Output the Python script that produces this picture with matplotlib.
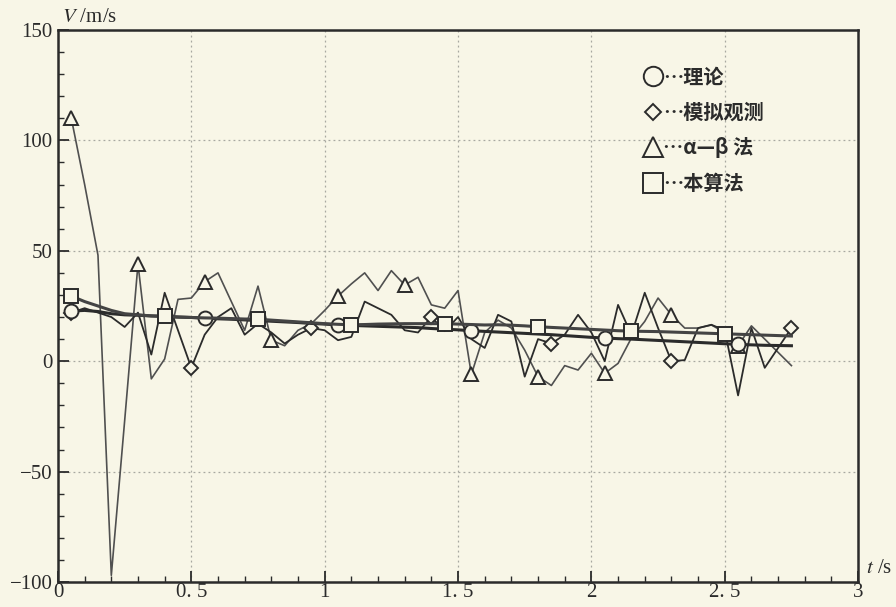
import matplotlib
matplotlib.use("Agg")
import matplotlib.pyplot as plt
from matplotlib.lines import Line2D
from matplotlib.ticker import MultipleLocator

plt.rcParams["font.family"] = ["Liberation Serif", "DejaVu Serif"]
plt.rcParams["mathtext.fontset"] = "stix"

# sample times (s)
t = [0.05, 0.10, 0.15, 0.20, 0.25, 0.30, 0.35, 0.40, 0.45, 0.50,
     0.55, 0.60, 0.65, 0.70, 0.75, 0.80, 0.85, 0.90, 0.95, 1.00,
     1.05, 1.10, 1.15, 1.20, 1.25, 1.30, 1.35, 1.40, 1.45, 1.50,
     1.55, 1.60, 1.65, 1.70, 1.75, 1.80, 1.85, 1.90, 1.95, 2.00,
     2.05, 2.10, 2.15, 2.20, 2.25, 2.30, 2.35, 2.40, 2.45, 2.50,
     2.55, 2.60, 2.65, 2.70, 2.75]

# 理论
theory = [22.7, 23.0, 22.5, 21.5, 21.0, 20.8, 20.5, 20.3, 20.0, 19.8,
          19.5, 19.2, 19.0, 18.7, 18.4, 18.1, 17.8, 17.5, 17.1, 16.8,
          16.4, 16.2, 16.0, 15.8, 15.6, 15.4, 15.2, 14.8, 14.5, 14.2,
          13.8, 13.5, 13.2, 12.9, 12.6, 12.3, 12.0, 11.6, 11.2, 10.8,
          10.5, 10.2, 10.0, 9.7, 9.4, 9.1, 8.8, 8.5, 8.2, 7.9,
          7.6, 7.4, 7.2, 7.1, 7.0]

# 模拟观测
observed = [22, 24, 22, 20, 15.5, 22, 3, 31, 14, -3,
            12, 20, 24, 12, 17, 13, 8, 12, 15, 14,
            9.5, 11, 27, 24, 21, 14, 13, 20, 13.6, 20,
            10, 6, 21, 18, -7, 10, 8, 12, 21, 13,
            0, 25.5, 12, 31, 15, 0, 0.5, 15, 16.5, 14,
            -15.5, 15, -3, 6, 15]

# α-β 法
alpha_beta = [110, 80, 48, -97, -27, 44, -8, 1, 28, 28.6,
              36, 40, 27, 14, 34, 9.5, 7, 14, 17, 23,
              29.5, 35, 40, 32, 41, 34.5, 38, 25.5, 24, 32,
              -6, 13, 18.6, 15, 5, -7, -11, -2, -4, 3.6,
              -5.5, -1, 10.5, 18, 28.6, 21, 15, 15, 16.4, 13,
              7, 16, 10, 4, -2]

# 本算法
proposed = [29.5, 27.0, 25.0, 23.0, 21.5, 21.0, 20.5, 20.3, 20.0, 19.8,
            19.6, 19.5, 19.3, 19.1, 19.0, 18.6, 18.2, 17.8, 17.4, 17.0,
            16.7, 16.5, 16.6, 16.8, 16.9, 17.0, 17.0, 17.0, 17.0, 16.8,
            16.6, 16.4, 16.5, 16.3, 16.0, 15.6, 15.3, 15.0, 14.7, 14.4,
            14.1, 13.8, 13.6, 13.5, 13.4, 13.2, 13.0, 12.8, 12.6, 12.4,
            12.2, 12.0, 11.8, 11.6, 11.4]

x_ticks = [0, 0.5, 1, 1.5, 2, 2.5, 3]
x_labels = ["0", "0. 5", "1", "1. 5", "2", "2. 5", "3"]
y_ticks = [-100, -50, 0, 50, 100, 150]
legend_labels = ["…理论", "…模拟观测", "…α—β 法", "…本算法"]

paper = "#f8f6e7"
ink = "#2b2b2b"

fig = plt.figure(figsize=(8.96, 6.07), dpi=100, facecolor=paper)
ax = fig.add_axes([0.0647, 0.0412, 0.893, 0.9094], facecolor=paper)

mk = dict(markerfacecolor=paper, markeredgecolor=ink, markeredgewidth=1.4)
ax.plot(t, alpha_beta, color="#505050", lw=1.2, marker="^", ms=10,
        markevery=5, zorder=3, **mk)
ax.plot(t, observed, color=ink, lw=1.3, marker="D", ms=7,
        markevery=9, zorder=3, **mk)
ax.plot(t, theory, color=ink, lw=2.2, marker="o", ms=10,
        markevery=10, zorder=4, **mk)
ax.plot(t, proposed, color="#444444", lw=2.2, marker="s", ms=10,
        markevery=7, zorder=4, **mk)

ax.set_xlim(0, 3)
ax.set_ylim(-100, 150)
ax.set_xticks(x_ticks)
ax.set_xticklabels(x_labels)
ax.set_yticks(y_ticks)
ax.xaxis.set_minor_locator(MultipleLocator(0.1))
ax.yaxis.set_minor_locator(MultipleLocator(10))
ax.tick_params(which="major", direction="in", length=8, width=1.3,
               labelsize=15, colors=ink, pad=4)
ax.tick_params(which="minor", direction="in", length=4, width=1.0, colors=ink)
ax.tick_params(axis="x", pad=1)
ax.grid(True, which="major", color="#a8a8a0", lw=0.9, ls=(0, (1.5, 2.5)))
for s in ax.spines.values():
    s.set_linewidth(1.8)
    s.set_color(ink)

ax.text(0.005, 1.006, "$V$ /m/s", transform=ax.transAxes, fontsize=15,
        ha="left", va="bottom", color=ink)
ax.text(1.01, 0.008, "$t$ /s", transform=ax.transAxes, fontsize=15,
        ha="left", va="bottom", color=ink)

handles = [
    Line2D([], [], ls="none", marker="o", ms=14, **mk),
    Line2D([], [], ls="none", marker="D", ms=8, **mk),
    Line2D([], [], ls="none", marker="^", ms=14, **mk),
    Line2D([], [], ls="none", marker="s", ms=14, **mk),
]
leg = ax.legend(handles, legend_labels, loc="upper left",
                bbox_to_anchor=(0.71, 0.967), frameon=False,
                handlelength=0.9, handletextpad=0.05, labelspacing=0.72,
                prop={"family": ["Noto Sans CJK SC", "DejaVu Sans"],
                      "size": 14.5, "weight": "bold"})
for txt in leg.get_texts():
    txt.set_color(ink)

fig.savefig("out.png", dpi=100, facecolor=paper)
